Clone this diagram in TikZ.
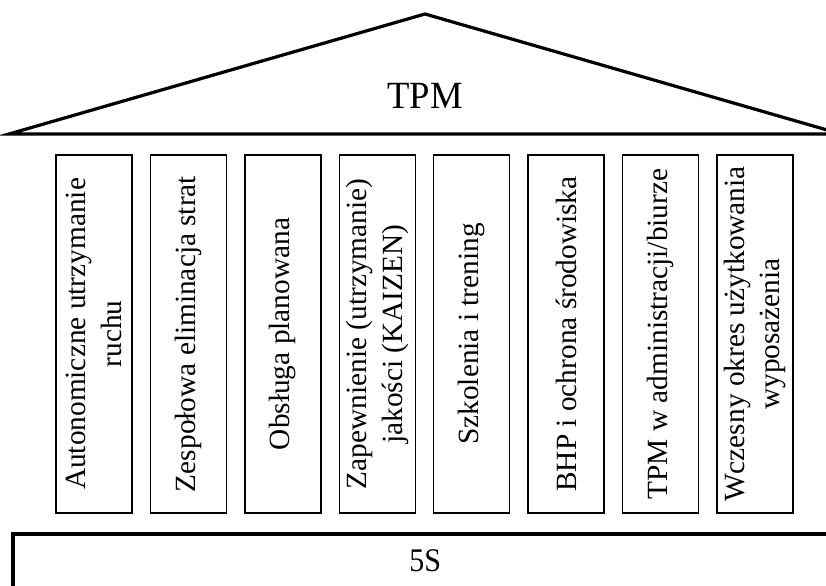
\documentclass[tikz,border=0pt]{standalone}
\usepackage{fontspec}
\setmainfont{Liberation Serif}
\begin{document}
\begin{tikzpicture}[x=0.75pt,y=-0.75pt,
  pillar/.style={draw, line width=1pt, rotate=90, minimum width=268.5pt, minimum height=57pt,
    inner sep=0pt, align=center, font=\fontsize{22}{26.5}\selectfont, anchor=center},
  heavy/.style={line width=2.4pt},
  bigtext/.style={font=\fontsize{27.5}{32}\selectfont, inner sep=0pt, yscale=1.05},
  basetext/.style={font=\fontsize{22.5}{26}\selectfont, inner sep=0pt, yscale=1.1}
]
\useasboundingbox (0,0) rectangle (826,586);
\clip (0,0) rectangle (826,586);
% roof
\draw[heavy, line join=miter] (9,134) -- (425,14) -- (841,134) -- cycle;
\node[bigtext] (tpm) at (425,95.5) {TPM};
% pillars
\node[pillar] (p1) at (94,334) {Autonomiczne utrzymanie\\ruchu};
\node[pillar] (p2) at (188.4,334) {Zespołowa eliminacja strat};
\node[pillar] (p3) at (282.9,334) {Obsługa planowana};
\node[pillar] (p4) at (377.3,334) {Zapewnienie (utrzymanie)\\jakości (KAIZEN)};
\node[pillar] (p5) at (471.7,334) {Szkolenia i trening};
\node[pillar] (p6) at (566.1,334) {BHP i ochrona środowiska};
\node[pillar] (p7) at (660.6,334) {TPM w administracji/biurze};
\node[pillar] (p8) at (755,334) {Wczesny okres użytkowania\\wyposażenia};
% base
\draw[heavy] (13,600) -- (13,534) -- (845,534) -- (845,600);
\node[basetext] (fiveS) at (425.3,561) {5S};
\end{tikzpicture}
\end{document}
